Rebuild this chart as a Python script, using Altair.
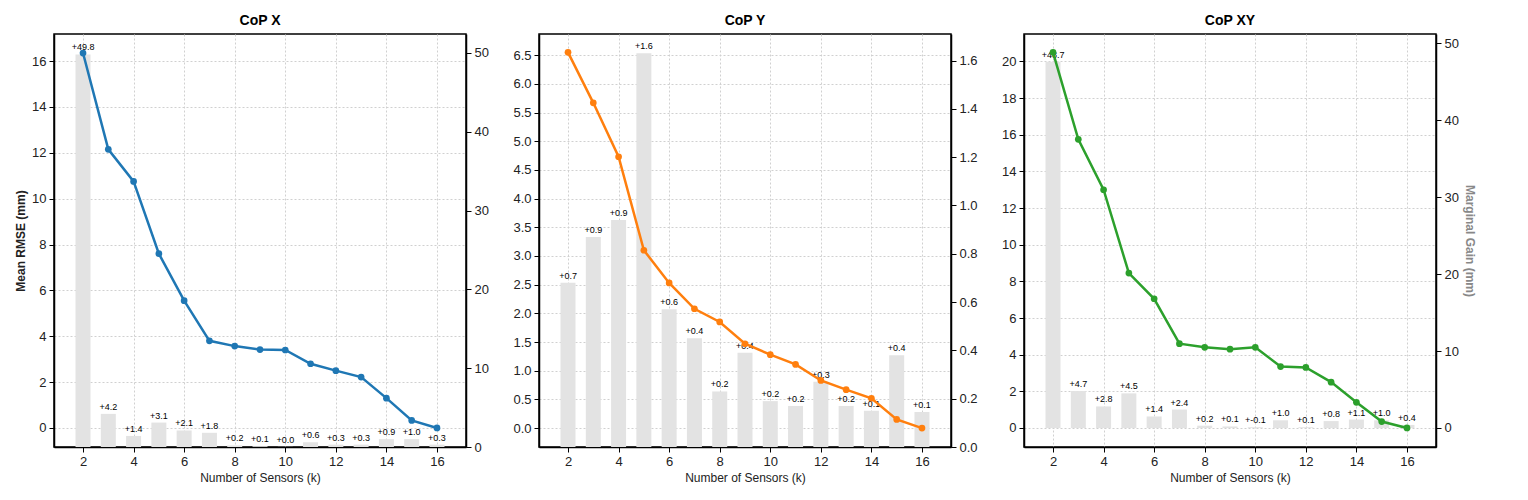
import altair as alt
import pandas as pd

k = list(range(2, 17))

rmse_x = [16.35, 12.15, 10.75, 7.6, 5.55, 3.8, 3.57, 3.42, 3.4, 2.8, 2.5, 2.22, 1.3, 0.33, 0.0]
gain_x = [49.8, 4.2, 1.4, 3.1, 2.1, 1.8, 0.2, 0.1, 0.0, 0.6, 0.3, 0.3, 0.9, 1.0, 0.3]
bar_x = [49.8, 4.2, 1.4, 3.1, 2.1, 1.8, 0.2, 0.1, 0.02, 0.6, 0.3, 0.3, 1.0, 1.0, 0.3]

rmse_y = [6.55, 5.67, 4.73, 3.1, 2.53, 2.08, 1.85, 1.47, 1.28, 1.11, 0.83, 0.67, 0.52, 0.15, 0.0]
gain_y = [0.7, 0.9, 0.9, 1.6, 0.6, 0.4, 0.2, 0.4, 0.2, 0.2, 0.3, 0.2, 0.1, 0.4, 0.1]
bar_y = [0.68, 0.87, 0.94, 1.63, 0.57, 0.45, 0.23, 0.39, 0.19, 0.17, 0.27, 0.17, 0.15, 0.38, 0.145]

rmse_xy = [20.5, 15.75, 13.0, 8.45, 7.05, 4.6, 4.4, 4.3, 4.4, 3.35, 3.3, 2.5, 1.4, 0.35, 0.0]
gain_xy = [48.7, 4.7, 2.8, 4.5, 1.4, 2.4, 0.2, 0.1, -0.1, 1.0, 0.1, 0.8, 1.1, 1.0, 0.4]
bar_xy = [47.6, 4.8, 2.8, 4.5, 1.5, 2.4, 0.3, 0.2, 0.1, 1.0, 0.1, 0.9, 1.1, 1.0, 0.4]

FONT = "Liberation Sans"
GRID = dict(grid=True, gridDash=[2, 2], gridColor="#d0d0d0")


def panel(title, rmse, gain, bars, color, ldom, rdom, rticks, rfmt,
          left_title=None, right_title=None):
    df = pd.DataFrame({"k": k, "rmse": rmse, "bar": bars,
                       "label": [f"+{g:.1f}" for g in gain]})
    x = alt.X("k:Q", scale=alt.Scale(domain=[1.05, 16.95], nice=False),
              axis=alt.Axis(values=k, title="Number of Sensors (k)",
                            titleFontWeight="normal", **GRID))
    if right_title:
        r_axis = alt.Axis(orient="right", values=rticks, format=rfmt, grid=False,
                          title=right_title, titleColor="#888888", titleFontWeight="bold")
    else:
        r_axis = alt.Axis(orient="right", values=rticks, format=rfmt, grid=False, title=None)
    yr = alt.Y("bar:Q", scale=alt.Scale(domain=rdom, nice=False, zero=False), axis=r_axis)
    bars_l = alt.Chart(df).mark_bar(size=15, color="#e3e3e3").encode(x=x, y=yr, y2=alt.datum(0))
    text = alt.Chart(df).mark_text(fontSize=9, baseline="bottom", dy=-2, font=FONT).encode(
        x="k:Q", y="bar:Q", text="label:N")
    right = alt.layer(bars_l, text)
    if left_title:
        l_axis = alt.Axis(title=left_title, titleFontWeight="bold", **GRID)
    else:
        l_axis = alt.Axis(title=None, **GRID)
    yl = alt.Y("rmse:Q", scale=alt.Scale(domain=ldom, nice=False, zero=False), axis=l_axis)
    line = alt.Chart(df).mark_line(color=color, strokeWidth=2.5, point=alt.OverlayMarkDef(
        color=color, size=45, filled=True, opacity=1)).encode(x="k:Q", y=yl)
    return alt.layer(right, line).resolve_scale(y="independent").properties(
        width=412, height=413, title=title)


c1 = panel("CoP X", rmse_x, gain_x, bar_x, "#1f77b4", [-0.83, 17.18], [0, 52.4],
           [0, 10, 20, 30, 40, 50], "d", left_title="Mean RMSE (mm)")
c2 = panel("CoP Y", rmse_y, gain_y, bar_y, "#ff7f0e", [-0.33, 6.87], [0, 1.71],
           [0.0, 0.2, 0.4, 0.6, 0.8, 1.0, 1.2, 1.4, 1.6], ".1f")
c3 = panel("CoP XY", rmse_xy, gain_xy, bar_xy, "#2ca02c", [-1.04, 21.5], [-2.47, 51.2],
           [0, 10, 20, 30, 40, 50], "d", right_title="Marginal Gain (mm)")

chart = alt.hconcat(c1, c2, c3, spacing=22).configure_view(
    stroke="black", strokeWidth=1.5
).configure_axis(
    labelFont=FONT, titleFont=FONT, labelFontSize=13, titleFontSize=12,
    labelColor="#222", titleColor="#222", domainColor="black", tickColor="black",
    domainWidth=1.5, labelPadding=3
).configure_title(
    font=FONT, fontSize=14, fontWeight="bold", offset=6
)

chart.save("out.html", embed_options={"renderer": "svg", "actions": False})
